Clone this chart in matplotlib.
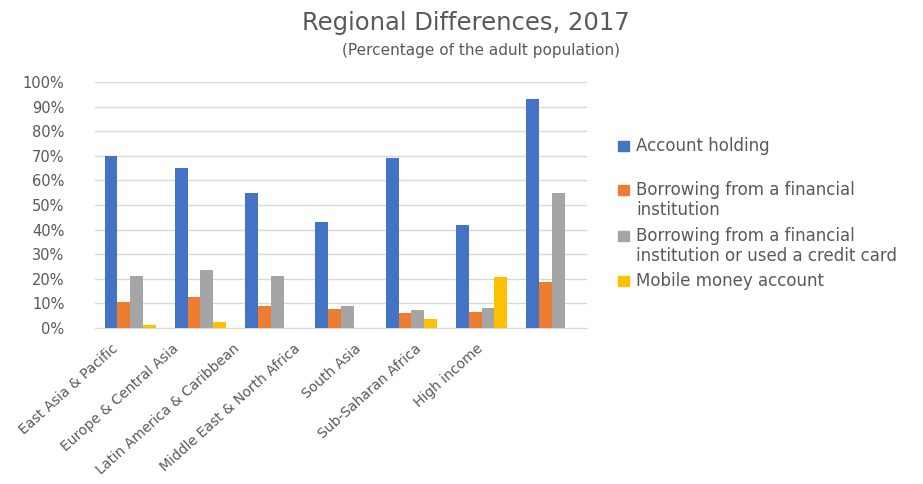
import numpy as np
import matplotlib.pyplot as plt
from matplotlib.patches import Rectangle
from matplotlib.ticker import PercentFormatter

plt.rcParams['font.family'] = ['DejaVu Sans']

regions = ['East Asia & Pacific', 'Europe & Central Asia',
           'Latin America & Caribbean', 'Middle East & North Africa',
           'South Asia', 'Sub-Saharan Africa', 'High income']
series = ['Account holding',
          'Borrowing from a financial\ninstitution',
          'Borrowing from a financial\ninstitution or used a credit card',
          'Mobile money account']
account = [70, 65, 55, 43, 69, 42, 93]
borrow_fi = [10.5, 12.5, 9, 7.5, 6, 6.5, 18.5]
borrow_cc = [21, 23.5, 21, 9, 7, 8, 55]
mobile = [1, 2.5, 0, 0, 3.5, 20.5, 0]
colors = ['#4472C4', '#ED7D31', '#A5A5A5', '#FFC000']

values = [account, borrow_fi, borrow_cc, mobile]
text_col = '#595959'

fig = plt.figure(figsize=(9.23, 4.84), dpi=100)
ax = fig.add_axes([0.103, 0.323, 0.533, 0.507])

x = np.arange(len(regions))
w = 0.182
for i, (vals, c) in enumerate(zip(values, colors)):
    ax.bar(x + (i - 1.5) * w, vals, w, color=c, zorder=3)

ax.set_xlim(-0.5, len(regions) - 0.5)
ax.set_ylim(0, 100)
ax.set_yticks(np.arange(0, 101, 10))
ax.yaxis.set_major_formatter(PercentFormatter(decimals=0))
ax.grid(axis='y', color='#D9D9D9', linewidth=1, zorder=0)
for s in ['top', 'right', 'left']:
    ax.spines[s].set_visible(False)
ax.spines['bottom'].set_color('#D9D9D9')
ax.tick_params(length=0, colors=text_col)
ax.tick_params(axis='y', pad=22, labelsize=10.5)

# category labels in the source sit a bit tighter than the bar groups
tick_pos = -0.27 + 0.865 * x
ax.set_xticks(tick_pos)
ax.set_xticklabels(regions, rotation=42, ha='right', rotation_mode='anchor',
                   fontsize=10, color=text_col)
ax.tick_params(axis='x', pad=10)

fig.text(0.505, 0.952, 'Regional Differences, 2017', ha='center', va='center',
         fontsize=17.5, color=text_col)
fig.text(0.521, 0.895, '(Percentage of the adult population)', ha='center',
         va='center', fontsize=11, color=text_col)

# legend, Excel style
leg_y = [146, 190, 236, 281]
for lab, c, yp in zip(series, colors, leg_y):
    fy = 1 - yp / 484
    fig.add_artist(Rectangle((618 / 923, fy - 5 / 484), 11 / 923, 10 / 484,
                             transform=fig.transFigure, color=c))
    fig.text(636 / 923, fy + 9 / 484, lab, ha='left', va='top', fontsize=12,
             color=text_col, linespacing=1.12)

fig.savefig('out.png', dpi=100)
